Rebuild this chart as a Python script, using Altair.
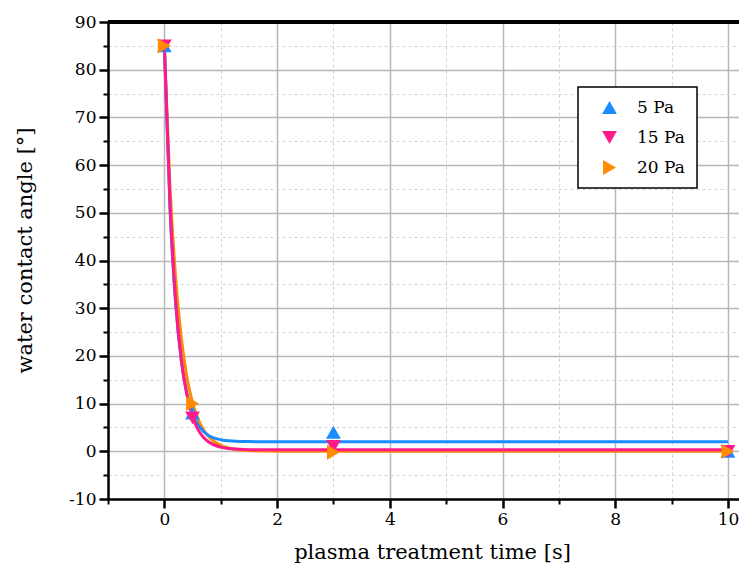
import altair as alt
import pandas as pd

series = ["5 Pa", "15 Pa", "20 Pa"]
colors = ["#1a8cff", "#ff1a8c", "#ff8c00"]
shapes = ["triangle-up", "triangle-down", "triangle-right"]

# measured points
t_meas = [0, 0.5, 3, 10]
wca_5 = [85, 8, 4, 0]
wca_15 = [85, 7, 1, 0]
wca_20 = [85, 10, -0.2, 0]

# fitted curves
t_fit = [0, 0.1, 0.2, 0.3, 0.4, 0.5, 0.6, 0.7, 0.8, 1.0, 1.2, 1.5, 2, 3, 10]
fit_5 = [85, 51.0, 31.0, 19.1, 12.1, 8.0, 5.5, 4.1, 3.2, 2.43, 2.15, 2.03, 2.0, 2.0, 2.0]
fit_15 = [85, 51.7, 31.5, 19.2, 11.8, 7.3, 4.5, 2.86, 1.85, 0.87, 0.51, 0.35, 0.3, 0.3, 0.3]
fit_20 = [85, 55.6, 36.4, 23.8, 15.6, 10.2, 6.7, 4.4, 2.9, 1.23, 0.53, 0.15, 0.02, 0.0, 0.0]

x_major = [0, 2, 4, 6, 8, 10]
x_minor = [-1, 1, 3, 5, 7, 9]
y_major = [-10, 0, 10, 20, 30, 40, 50, 60, 70, 80, 90]
y_minor = [-5, 5, 15, 25, 35, 45, 55, 65, 75, 85]

FONT = "DejaVu Serif"

pts = pd.DataFrame(
    [{"t": t, "wca": v, "series": s}
     for s, vals in zip(series, [wca_5, wca_15, wca_20])
     for t, v in zip(t_meas, vals)]
)
fit_df = {
    s: pd.DataFrame({"t": t_fit, "wca": vals})
    for s, vals in zip(series, [fit_5, fit_15, fit_20])
}

xs = alt.Scale(domain=[-1, 10.196], nice=False, zero=False)
ys = alt.Scale(domain=[-10, 90], nice=False, zero=False)

x_major_axis = alt.Axis(
    values=x_major, labelExpr="'' + datum.value", grid=True, gridColor="#b8b8b8",
    gridWidth=1.5, tickSize=9, tickWidth=2.5, tickColor="black",
    domainColor="black", domainWidth=2.5, labelFontSize=17, labelColor="black",
    labelFont=FONT, labelPadding=3, titleFontSize=21, titleFontWeight="normal",
    titleFont=FONT, titleColor="black", titleX=324, titleY=53,
    titleBaseline="middle", titleAlign="center", orient="bottom",
)
y_major_axis = alt.Axis(
    values=y_major, labelExpr="'' + datum.value", grid=True, gridColor="#b8b8b8",
    gridWidth=1.5, tickSize=9, tickWidth=2.5, tickColor="black",
    domainColor="black", domainWidth=2.5, labelFontSize=17, labelColor="black",
    labelFont=FONT, labelPadding=3, titleFontSize=21, titleFontWeight="normal",
    titleFont=FONT, titleColor="black", titleX=-83, titleY=228,
    titleBaseline="middle", titleAlign="center", orient="left",
)
x_minor_axis = alt.Axis(
    values=x_minor, labels=False, grid=True, gridColor="#d4d4d4", gridWidth=1,
    gridDash=[3, 3], tickSize=5, tickWidth=2, tickColor="black", domain=False,
    orient="bottom",
)
y_minor_axis = alt.Axis(
    values=y_minor, labels=False, grid=True, gridColor="#d4d4d4", gridWidth=1,
    gridDash=[3, 3], tickSize=5, tickWidth=2, tickColor="black", domain=False,
    orient="left",
)

minor = alt.Chart(pts).mark_point(opacity=0).encode(
    x=alt.X("t:Q", scale=xs, axis=x_minor_axis, title=None),
    y=alt.Y("wca:Q", scale=ys, axis=y_minor_axis, title=None),
)


def fit_line(name, color, with_axes):
    if with_axes:
        x = alt.X("t:Q", scale=xs, axis=x_major_axis, title="plasma treatment time [s]")
        y = alt.Y("wca:Q", scale=ys, axis=y_major_axis, title="water contact angle [°]")
    else:
        x = alt.X("t:Q", scale=xs, axis=None)
        y = alt.Y("wca:Q", scale=ys, axis=None)
    return alt.Chart(fit_df[name]).mark_line(
        strokeWidth=3, interpolate="monotone", color=color
    ).encode(x=x, y=y)


line_20 = fit_line("20 Pa", colors[2], True)
line_5 = fit_line("5 Pa", colors[0], False)
line_15 = fit_line("15 Pa", colors[1], False)

points = alt.Chart(pts).mark_point(filled=True, size=220, opacity=1).encode(
    x=alt.X("t:Q", scale=xs, axis=None),
    y=alt.Y("wca:Q", scale=ys, axis=None),
    color=alt.Color("series:N", scale=alt.Scale(domain=series, range=colors),
                    legend=alt.Legend(title=None)),
    shape=alt.Shape("series:N", scale=alt.Scale(domain=series, range=shapes),
                    legend=alt.Legend(title=None)),
)

top = alt.Chart(pts).mark_rule(color="black", strokeWidth=3).encode(
    y=alt.Y(datum=90, scale=ys, axis=None),
)

chart = alt.layer(minor, line_20, line_5, line_15, points, top).resolve_axis(
    x="independent", y="independent"
).properties(
    width=631, height=477,
    padding={"left": 100, "top": 14, "right": 0, "bottom": 65},
    autosize=alt.AutoSizeParams(type="none"),
).configure(
    font=FONT,
).configure_view(
    stroke=None,
).configure_legend(
    orient="none", legendX=470, legendY=65, strokeColor="black", strokeWidth=1.5,
    fillColor="white", padding=12, symbolSize=220, labelFontSize=17,
    labelFont=FONT, labelColor="black", rowPadding=12, labelOffset=19,
    symbolOffset=11, symbolStrokeWidth=0, cornerRadius=0,
)

chart.save("out.html", embed_options={"renderer": "svg", "actions": False})
